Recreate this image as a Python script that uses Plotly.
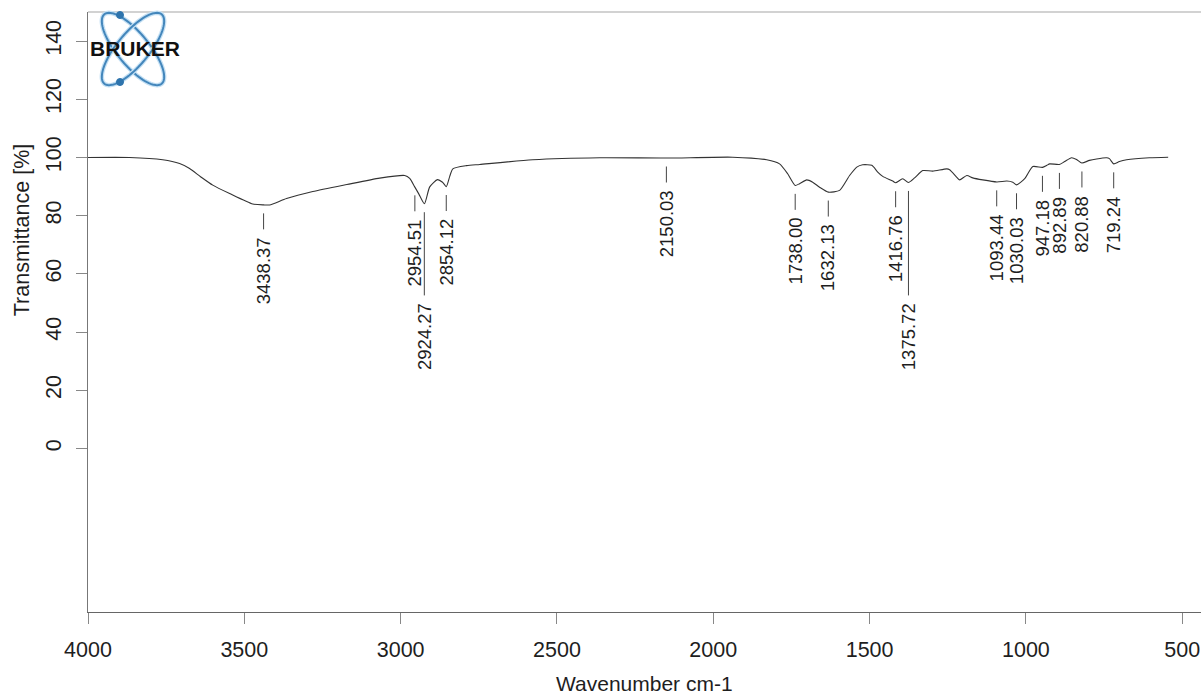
import numpy as np
import plotly.graph_objects as go

# ---------------- data ----------------
wavenumber = [4000, 3867, 3761, 3707, 3675, 3640, 3601, 3547, 3473, 3438, 3419,
              3365, 3281, 3172, 3067, 2987, 2971, 2955, 2942, 2924, 2907,
              2882, 2866, 2854, 2843, 2833, 2789, 2747, 2578, 2363, 2149,
              1938, 1829, 1788, 1762, 1738, 1724, 1701, 1682, 1660, 1632,
              1596, 1564, 1541, 1522, 1493, 1474, 1458, 1426, 1417, 1394,
              1376, 1356, 1330, 1298, 1253, 1244, 1221, 1212, 1189, 1170,
              1138, 1093, 1061, 1042, 1030, 1004, 978, 947, 933, 924,
              893, 876, 854, 838, 821, 797, 774, 742, 733, 719,
              701, 678, 605, 545]
transmittance = [100.0, 100.0, 99.2, 97.9, 96.2, 93.4, 90.5, 87.6, 84.0, 83.7, 83.7,
                 85.9, 88.3, 90.7, 92.9, 93.8, 92.8, 89.9, 87.5, 84.1, 89.9,
                 92.4, 91.5, 90.0, 93.5, 96.1, 97.2, 97.6, 99.2, 99.9, 99.8,
                 100.1, 99.2, 97.8, 94.4, 90.4, 91.0, 92.3, 91.5, 89.8, 88.1,
                 88.7, 93.8, 96.7, 97.5, 97.3, 95.0, 93.5, 91.9, 91.3, 92.7,
                 91.4, 93.0, 95.5, 95.3, 96.1, 95.8, 93.2, 92.3, 93.8, 93.0,
                 92.3, 91.6, 91.9, 91.5, 90.6, 92.7, 96.9, 96.6, 97.3, 97.8,
                 97.6, 98.6, 99.9, 99.3, 98.1, 99.0, 99.5, 99.9, 99.6, 97.8,
                 98.6, 99.2, 99.9, 100.1]

peak_wavenumbers = [3438.37, 2954.51, 2924.27, 2854.12, 2150.03, 1738.00, 1632.13,
                    1416.76, 1375.72, 1093.44, 1030.03, 947.18, 892.89, 820.88, 719.24]
peak_transmittance = [83.7, 89.9, 84.1, 90.0, 99.8, 90.4, 88.1,
                      91.3, 91.4, 91.6, 90.6, 96.6, 97.6, 98.1, 97.8]
long_leader_labels = ["2924.27", "1375.72"]

x_tick_values = [4000, 3500, 3000, 2500, 2000, 1500, 1000, 500]
y_tick_values = [0, 20, 40, 60, 80, 100, 120, 140]

x_title = "Wavenumber cm-1"
y_title = "Transmittance [%]"
logo_text = "BRUKER"

# ---------------- layout constants ----------------
W, H = 1201, 694
ML, MR, MT, MB = 88, 0, 12, 82
X_RANGE = [4000, 440]
Y_RANGE = [-56.2, 150]
FONT = "Liberation Sans, Arial, Helvetica, sans-serif"
TEXT = "#1e1e1e"

fig = go.Figure()
fig.add_trace(go.Scatter(
    x=wavenumber, y=transmittance, mode="lines",
    line=dict(color="#333333", width=1.1, shape="spline", smoothing=0.6),
    hoverinfo="skip", showlegend=False))

shapes = []
annotations = []

# peak markers
for wn, t in zip(peak_wavenumbers, peak_transmittance):
    label = f"{wn:.2f}"
    top = t - 2.9
    bottom = 52.6 if label in long_leader_labels else top - 5.5
    shapes.append(dict(type="line", xref="x", yref="y", x0=wn, x1=wn, y0=top, y1=bottom,
                       line=dict(color="#444444", width=1)))
    annotations.append(dict(x=wn, y=bottom - 2.0, xref="x", yref="y", text=label,
                            textangle=-90, showarrow=False, xanchor="center", yanchor="top",
                            font=dict(size=18.5, color=TEXT, family=FONT)))

# top border
shapes.append(dict(type="line", xref="paper", yref="paper", x0=0, x1=1, y0=1, y1=1,
                   line=dict(color="#d2d2d2", width=2)))

# logo (decoration) in pixel space -> paper
PW, PH = W - ML - MR, H - MT - MB


def to_paper(px, py):
    return (np.asarray(px) - ML) / PW, (H - MB - np.asarray(py)) / PH


cx, cy, a, b = 133, 49, 45, 16
t = np.linspace(0, 2 * np.pi, 91)
for ang in (50.5, -50.5):
    th = np.radians(ang)
    ex = cx + a * np.cos(t) * np.cos(th) - b * np.sin(t) * np.sin(th)
    ey = cy + a * np.cos(t) * np.sin(th) + b * np.sin(t) * np.cos(th)
    xp, yp = to_paper(ex, ey)
    path = "M " + " L ".join(f"{u:.5f},{v:.5f}" for u, v in zip(xp, yp)) + " Z"
    shapes.append(dict(type="path", xref="paper", yref="paper", path=path,
                       line=dict(color="#c4e0f4", width=4.5), layer="above"))
    shapes.append(dict(type="path", xref="paper", yref="paper", path=path,
                       line=dict(color="#4386bb", width=2), layer="above"))
for dx, dy in [(120, 15), (120, 82)]:
    x0, y0 = to_paper(dx - 3.5, dy + 3.5)
    x1, y1 = to_paper(dx + 3.5, dy - 3.5)
    shapes.append(dict(type="circle", xref="paper", yref="paper", x0=x0, x1=x1, y0=y0, y1=y1,
                       fillcolor="#2e74ad", line=dict(color="#2e74ad", width=1), layer="above"))
lx, ly = to_paper(134.5, 49)
annotations.append(dict(x=float(lx), y=float(ly), xref="paper", yref="paper",
                        text=f"<b>{logo_text}</b>", showarrow=False,
                        xanchor="center", yanchor="middle",
                        font=dict(size=21, color="#111111", family=FONT)))

# axis titles
annotations.append(dict(x=0.5, y=0, xref="paper", yref="paper", text=x_title,
                        showarrow=False, xanchor="center", yanchor="middle", yshift=-71,
                        font=dict(size=21, color=TEXT, family=FONT)))
annotations.append(dict(x=0, y=75, xref="paper", yref="y", text=y_title, textangle=-90,
                        showarrow=False, xanchor="center", yanchor="middle", xshift=-66,
                        font=dict(size=21.5, color=TEXT, family=FONT)))

fig.update_layout(
    width=W, height=H, autosize=False,
    margin=dict(l=ML, r=MR, t=MT, b=MB, pad=0),
    paper_bgcolor="white", plot_bgcolor="white",
    shapes=shapes, annotations=annotations,
    font=dict(family=FONT, color=TEXT),
    xaxis=dict(range=X_RANGE, tickvals=x_tick_values, ticks="outside", ticklen=11,
               tickcolor="#888888", tickwidth=1, showline=True, linecolor="#666666",
               linewidth=1, showgrid=False, zeroline=False, ticklabelstandoff=7,
               tickfont=dict(size=21.5, color=TEXT, family=FONT)),
    yaxis=dict(range=Y_RANGE, tickvals=y_tick_values, ticks="outside", ticklen=11,
               tickcolor="#888888", tickwidth=1, showline=True, linecolor="#777777",
               linewidth=1, showgrid=False, zeroline=False, tickangle=-90,
               ticklabelstandoff=6,
               tickfont=dict(size=21.5, color=TEXT, family=FONT)),
)

fig.write_html("out.html", config={"displayModeBar": False},
               post_script="document.body.style.margin='0';")
